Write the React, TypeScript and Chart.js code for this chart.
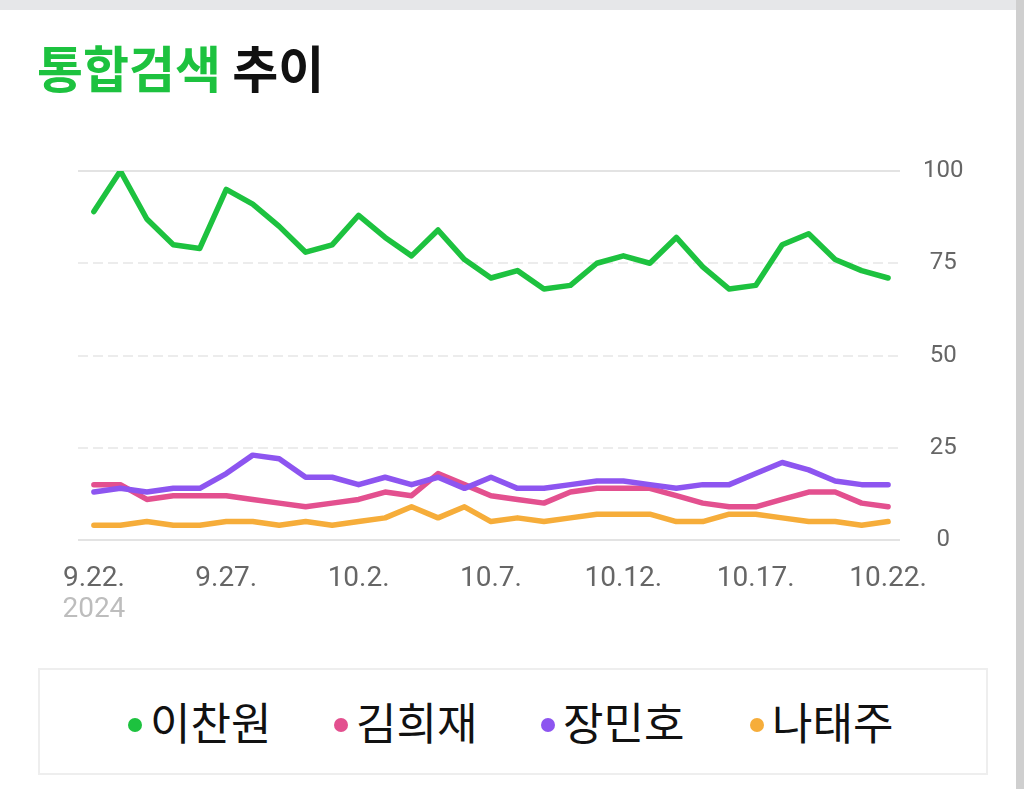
import React, { useEffect, useRef } from "react";
import { Chart, registerables } from "chart.js";

Chart.register(...registerables);

const dates = [
  "9.22.", "9.23.", "9.24.", "9.25.", "9.26.", "9.27.", "9.28.", "9.29.", "9.30.",
  "10.1.", "10.2.", "10.3.", "10.4.", "10.5.", "10.6.", "10.7.", "10.8.", "10.9.",
  "10.10.", "10.11.", "10.12.", "10.13.", "10.14.", "10.15.", "10.16.", "10.17.",
  "10.18.", "10.19.", "10.20.", "10.21.", "10.22.",
];
const tickIndices = [0, 5, 10, 15, 20, 25, 30];
const yearLabel = "2024";
const yTicks = [0, 25, 50, 75, 100];

const seriesNames = ["이찬원", "김희재", "장민호", "나태주"];
const seriesColors = ["#1dc23f", "#e3508f", "#8d55f0", "#f6ad3a"];

const leeChanwon = [89, 100, 87, 80, 79, 95, 91, 85, 78, 80, 88, 82, 77, 84, 76, 71, 73, 68, 69, 75, 77, 75, 82, 74, 68, 69, 80, 83, 76, 73, 71];
const kimHeejae = [15, 15, 11, 12, 12, 12, 11, 10, 9, 10, 11, 13, 12, 18, 15, 12, 11, 10, 13, 14, 14, 14, 12, 10, 9, 9, 11, 13, 13, 10, 9];
const jangMinho = [13, 14, 13, 14, 14, 18, 23, 22, 17, 17, 15, 17, 15, 17, 14, 17, 14, 14, 15, 16, 16, 15, 14, 15, 15, 18, 21, 19, 16, 15, 15];
const naTaeju = [4, 4, 5, 4, 4, 5, 5, 4, 5, 4, 5, 6, 9, 6, 9, 5, 6, 5, 6, 7, 7, 7, 5, 5, 7, 7, 6, 5, 5, 4, 5];

const seriesValues = [leeChanwon, kimHeejae, jangMinho, naTaeju];

const legendLefts = [128, 334, 541, 750];

const yearPlugin = {
  id: "yearLabel",
  afterDraw(chart: any) {
    const xs = chart.scales.x;
    const ctx = chart.ctx;
    ctx.save();
    ctx.font = "28px Roboto";
    ctx.fillStyle = "#bdbdbd";
    ctx.textAlign = "center";
    ctx.textBaseline = "alphabetic";
    ctx.fillText(yearLabel, xs.getPixelForValue(0), 497);
    ctx.restore();
  },
};

export default function App() {
  const canvasRef = useRef<HTMLCanvasElement | null>(null);

  useEffect(() => {
    if (!canvasRef.current) return;
    const chart = new Chart(canvasRef.current, {
      type: "line",
      data: {
        datasets: seriesNames.map((name, i) => ({
          label: name,
          data: seriesValues[i].map((v, j) => ({ x: j, y: v })),
          borderColor: seriesColors[i],
          backgroundColor: seriesColors[i],
          borderWidth: 5.5,
          pointRadius: 0,
          tension: 0,
          borderJoinStyle: "round" as const,
          borderCapStyle: "round" as const,
        })).reverse(),
      },
      options: {
        animation: false,
        responsive: false,
        maintainAspectRatio: false,
        layout: { padding: { left: 78, right: 44, top: 51, bottom: 0 } },
        plugins: { legend: { display: false }, tooltip: { enabled: false } },
        scales: {
          x: {
            type: "linear",
            min: -0.6,
            max: 30.45,
            grid: { display: false },
            border: { display: false },
            afterBuildTicks: (s: any) => {
              s.ticks = tickIndices.map((v) => ({ value: v }));
            },
            afterFit: (s: any) => {
              s.height = 100;
            },
            ticks: {
              autoSkip: false,
              maxRotation: 0,
              padding: 14,
              color: "#666666",
              font: { family: "Roboto", size: 28 },
              callback: (v: any) => dates[v as number],
            },
          },
          y: {
            position: "right",
            min: 0,
            max: 100,
            afterBuildTicks: (s: any) => {
              s.ticks = yTicks.map((v) => ({ value: v }));
            },
            afterFit: (s: any) => {
              s.width = 80;
            },
            ticks: {
              padding: 23,
              crossAlign: "center",
              color: "#666666",
              font: { family: "Roboto", size: 24 },
            },
            grid: {
              drawTicks: false,
              lineWidth: 2,
              color: (ctx: any) =>
                ctx.tick && (ctx.tick.value === 0 || ctx.tick.value === 100) ? "#e3e3e3" : "#ececec",
            },
            border: {
              display: false,
              dash: (ctx: any) =>
                ctx.tick && (ctx.tick.value === 0 || ctx.tick.value === 100) ? [] : [10, 5],
            },
          },
        },
      },
      plugins: [yearPlugin],
    } as any);
    return () => chart.destroy();
  }, []);

  return (
    <div
      style={{
        position: "absolute",
        left: 0,
        top: 0,
        width: 1024,
        height: 789,
        background: "#ffffff",
        overflow: "hidden",
        fontFamily: "'Noto Sans CJK KR', sans-serif",
      }}
    >
      <div style={{ position: "absolute", left: 0, top: 0, width: 1024, height: 10, background: "#e6e7e9" }} />
      <div style={{ position: "absolute", left: 1016, top: 0, width: 8, height: 789, background: "#cfcfcf" }} />
      <div
        style={{
          position: "absolute",
          left: 37,
          top: 38,
          fontSize: 50,
          lineHeight: "56px",
          fontWeight: 700,
          whiteSpace: "nowrap",
        }}
      >
        <span style={{ color: "#1dc23f" }}>통합검색</span>
        <span style={{ color: "#111111" }}> 추이</span>
      </div>
      <canvas
        ref={canvasRef}
        width={1024}
        height={520}
        style={{ position: "absolute", left: 0, top: 120, width: 1024, height: 520 }}
      />
      <div
        style={{
          position: "absolute",
          left: 38,
          top: 668,
          width: 950,
          height: 107,
          boxSizing: "border-box",
          border: "2px solid #eeeeee",
        }}
      />
      {seriesNames.map((name, i) => (
        <div
          key={name}
          style={{
            position: "absolute",
            left: legendLefts[i],
            top: 694,
            height: 54,
            display: "flex",
            alignItems: "center",
            whiteSpace: "nowrap",
          }}
        >
          <span
            style={{
              display: "inline-block",
              width: 14,
              height: 14,
              borderRadius: 7,
              background: seriesColors[i],
              marginRight: 8,
              marginTop: 8,
            }}
          />
          <span style={{ fontSize: 44, color: "#111111", lineHeight: "54px" }}>{name}</span>
        </div>
      ))}
    </div>
  );
}
